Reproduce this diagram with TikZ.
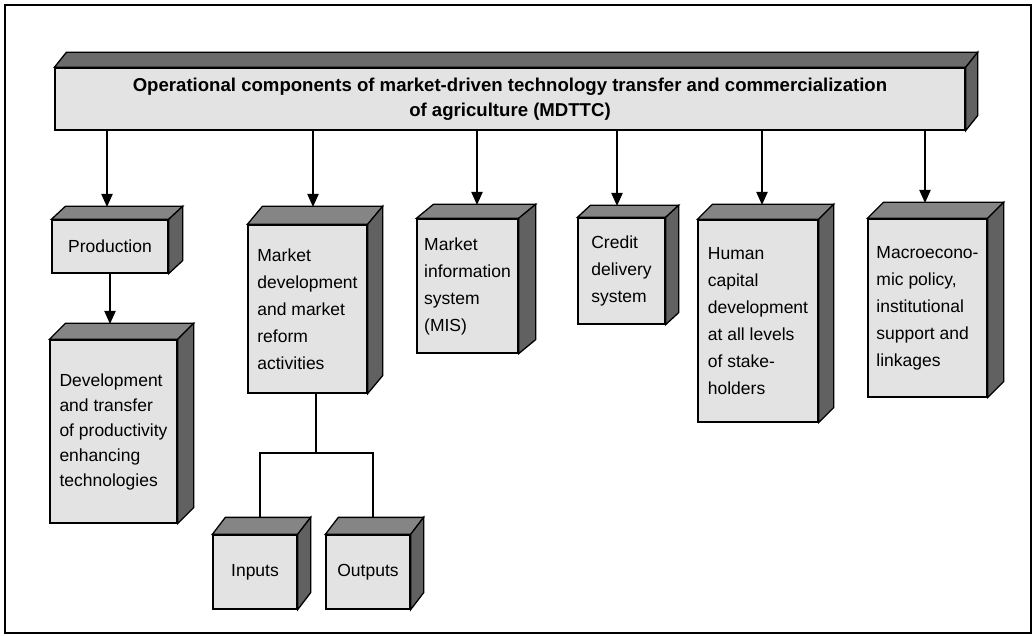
\documentclass[tikz,border=0pt]{standalone}
\usepackage{fontspec}
\setmainfont{Liberation Sans}
\usetikzlibrary{arrows.meta}
\definecolor{frontc}{gray}{0.89}
\definecolor{topc}{gray}{0.52}
\definecolor{titletopc}{gray}{0.42}
\definecolor{sidec}{gray}{0.38}
\newcommand{\depthfaces}[4]{%
  \filldraw[face,fill=#4] (#1.north west) -- ++(#2,-#3) -- ([shift={(#2,-#3)}]#1.north east) -- (#1.north east) -- cycle;
  \filldraw[face,fill=sidec] (#1.north east) -- ([shift={(#2,-#3)}]#1.north east) -- ([shift={(#2,-#3)}]#1.south east) -- (#1.south east) -- cycle;
}
\tikzset{
  face/.style={draw=black, line width=1.3pt, line join=miter},
  frontbox/.style={draw=black, fill=frontc, line width=1.3pt, inner sep=0pt, align=left,
    font=\fontsize{17.5}{27}\selectfont},
  arr/.style={line width=2pt, -{Triangle[length=13pt,width=11pt]}},
  tree/.style={line width=1.5pt}
}
\begin{document}
\begin{tikzpicture}[x=1pt,y=-1pt]
\useasboundingbox (0,0) rectangle (1034,636);
\draw[line width=1.8pt] (5,5) rectangle (1031,633);

% title
\node[frontbox, align=center, font=\bfseries\fontsize{18.6}{25}\selectfont,
  minimum width=910pt, minimum height=62pt] (title) at (510,99)
  {Operational components of market-driven technology transfer and commercialization\\of agriculture (MDTTC)};
\depthfaces{title}{12}{15}{titletopc}

% boxes
\node[frontbox, align=center, minimum width=116pt, minimum height=53pt] (prod) at (110,246.5) {Production};
\depthfaces{prod}{14}{13}{topc}

\node[frontbox, font=\fontsize{17.5}{25}\selectfont, minimum width=127pt, minimum height=183pt] (dev) at (113.5,431.5)
  {Development\\and transfer\\of productivity\\enhancing\\technologies};
\depthfaces{dev}{16}{16}{topc}

\node[frontbox, minimum width=119pt, minimum height=168pt] (mkt) at (307.5,309)
  {Market\\development\\and market\\reform\\activities};
\depthfaces{mkt}{15}{18}{topc}

\node[frontbox, minimum width=84pt, minimum height=74pt] (inputs) at (255,572) {Inputs};
\depthfaces{inputs}{13}{17}{topc}
\node[frontbox, minimum width=84pt, minimum height=74pt] (outputs) at (368,572) {Outputs};
\depthfaces{outputs}{13}{17}{topc}

\node[frontbox, minimum width=101pt, minimum height=134pt] (mis) at (467.5,286)
  {Market\\information\\system\\(MIS)};
\depthfaces{mis}{17}{14}{topc}

\node[frontbox, minimum width=87pt, minimum height=106pt] (credit) at (621.5,271)
  {Credit\\delivery\\system};
\depthfaces{credit}{13}{12}{topc}

\node[frontbox, minimum width=120pt, minimum height=202pt] (human) at (758,321)
  {Human\\capital\\development\\at all levels\\of stake-\\holders};
\depthfaces{human}{15}{15}{topc}

\node[frontbox, minimum width=119pt, minimum height=178pt] (macro) at (927.5,308)
  {Macroecono-\\mic policy,\\institutional\\support and\\linkages};
\depthfaces{macro}{16}{16}{topc}

% connector end points
\coordinate (prodT) at (107,207);
\coordinate (mktT) at (313,207);
\coordinate (misT) at (477,205);
\coordinate (credT) at (617,206);
\coordinate (humT) at (762,205);
\coordinate (macT) at (925,203);
\coordinate (devT) at (110,324);
\coordinate (split) at (316,453);
\coordinate (inT) at (260,518);
\coordinate (outT) at (373,518);

\draw[arr] (title.south -| prodT) -- (prodT);
\draw[arr] (title.south -| mktT) -- (mktT);
\draw[arr] (title.south -| misT) -- (misT);
\draw[arr] (title.south -| credT) -- (credT);
\draw[arr] (title.south -| humT) -- (humT);
\draw[arr] (title.south -| macT) -- (macT);
\draw[arr] (prod.south -| devT) -- (devT);

\draw[tree] (mkt.south -| split) -- (split);
\draw[tree] (inT) -- (inT |- split) -- (outT |- split) -- (outT);
\end{tikzpicture}
\end{document}
